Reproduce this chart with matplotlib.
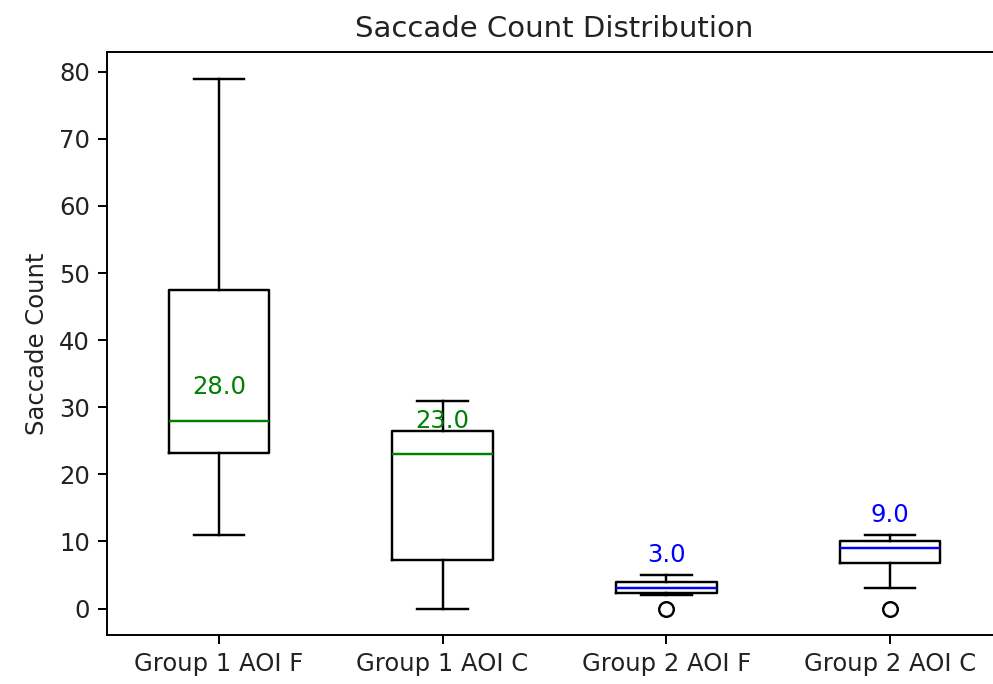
import matplotlib
matplotlib.use("Agg")
import matplotlib.pyplot as plt

labels = ["Group 1 AOI F", "Group 1 AOI C", "Group 2 AOI F", "Group 2 AOI C"]
whislo = [11, 0, 2, 3]
q1 = [23.25, 7.25, 2.25, 6.75]
med = [28.0, 23.0, 3.0, 9.0]
q3 = [47.5, 26.5, 4.0, 10.0]
whishi = [79, 31, 5, 11]
fliers = [[], [], [0], [0]]
median_colors = ["green", "green", "blue", "blue"]

plt.rcParams["text.color"] = "#222222"
plt.rcParams["xtick.labelcolor"] = "#222222"
plt.rcParams["ytick.labelcolor"] = "#222222"
plt.rcParams["axes.labelcolor"] = "#222222"

stats = []
for i in range(len(labels)):
    stats.append(dict(label=labels[i], whislo=whislo[i], q1=q1[i], med=med[i],
                      q3=q3[i], whishi=whishi[i], fliers=fliers[i]))

fig = plt.figure(figsize=(993 / 175, 684 / 175), dpi=175)
ax = fig.add_axes([107 / 993, 49 / 684, 895 / 993, 583 / 684])

bp = ax.bxp(stats, positions=[1, 2, 3, 4], widths=0.45)
for line, c in zip(bp["medians"], median_colors):
    line.set_color(c)

# median value above each box
for x, m, c in zip([1, 2, 3, 4], med, median_colors):
    ax.text(x, m + 5, f"{m:.1f}", ha="center", va="center", color=c, fontsize=10)

ax.set_xlim(0.5, 4.5)
ax.set_ylim(-3.95, 82.95)
ax.spines["right"].set_visible(False)  # cut off in the original
ax.set_title("Saccade Count Distribution")
ax.set_ylabel("Saccade Count")

fig.savefig("out.png", dpi=175)
